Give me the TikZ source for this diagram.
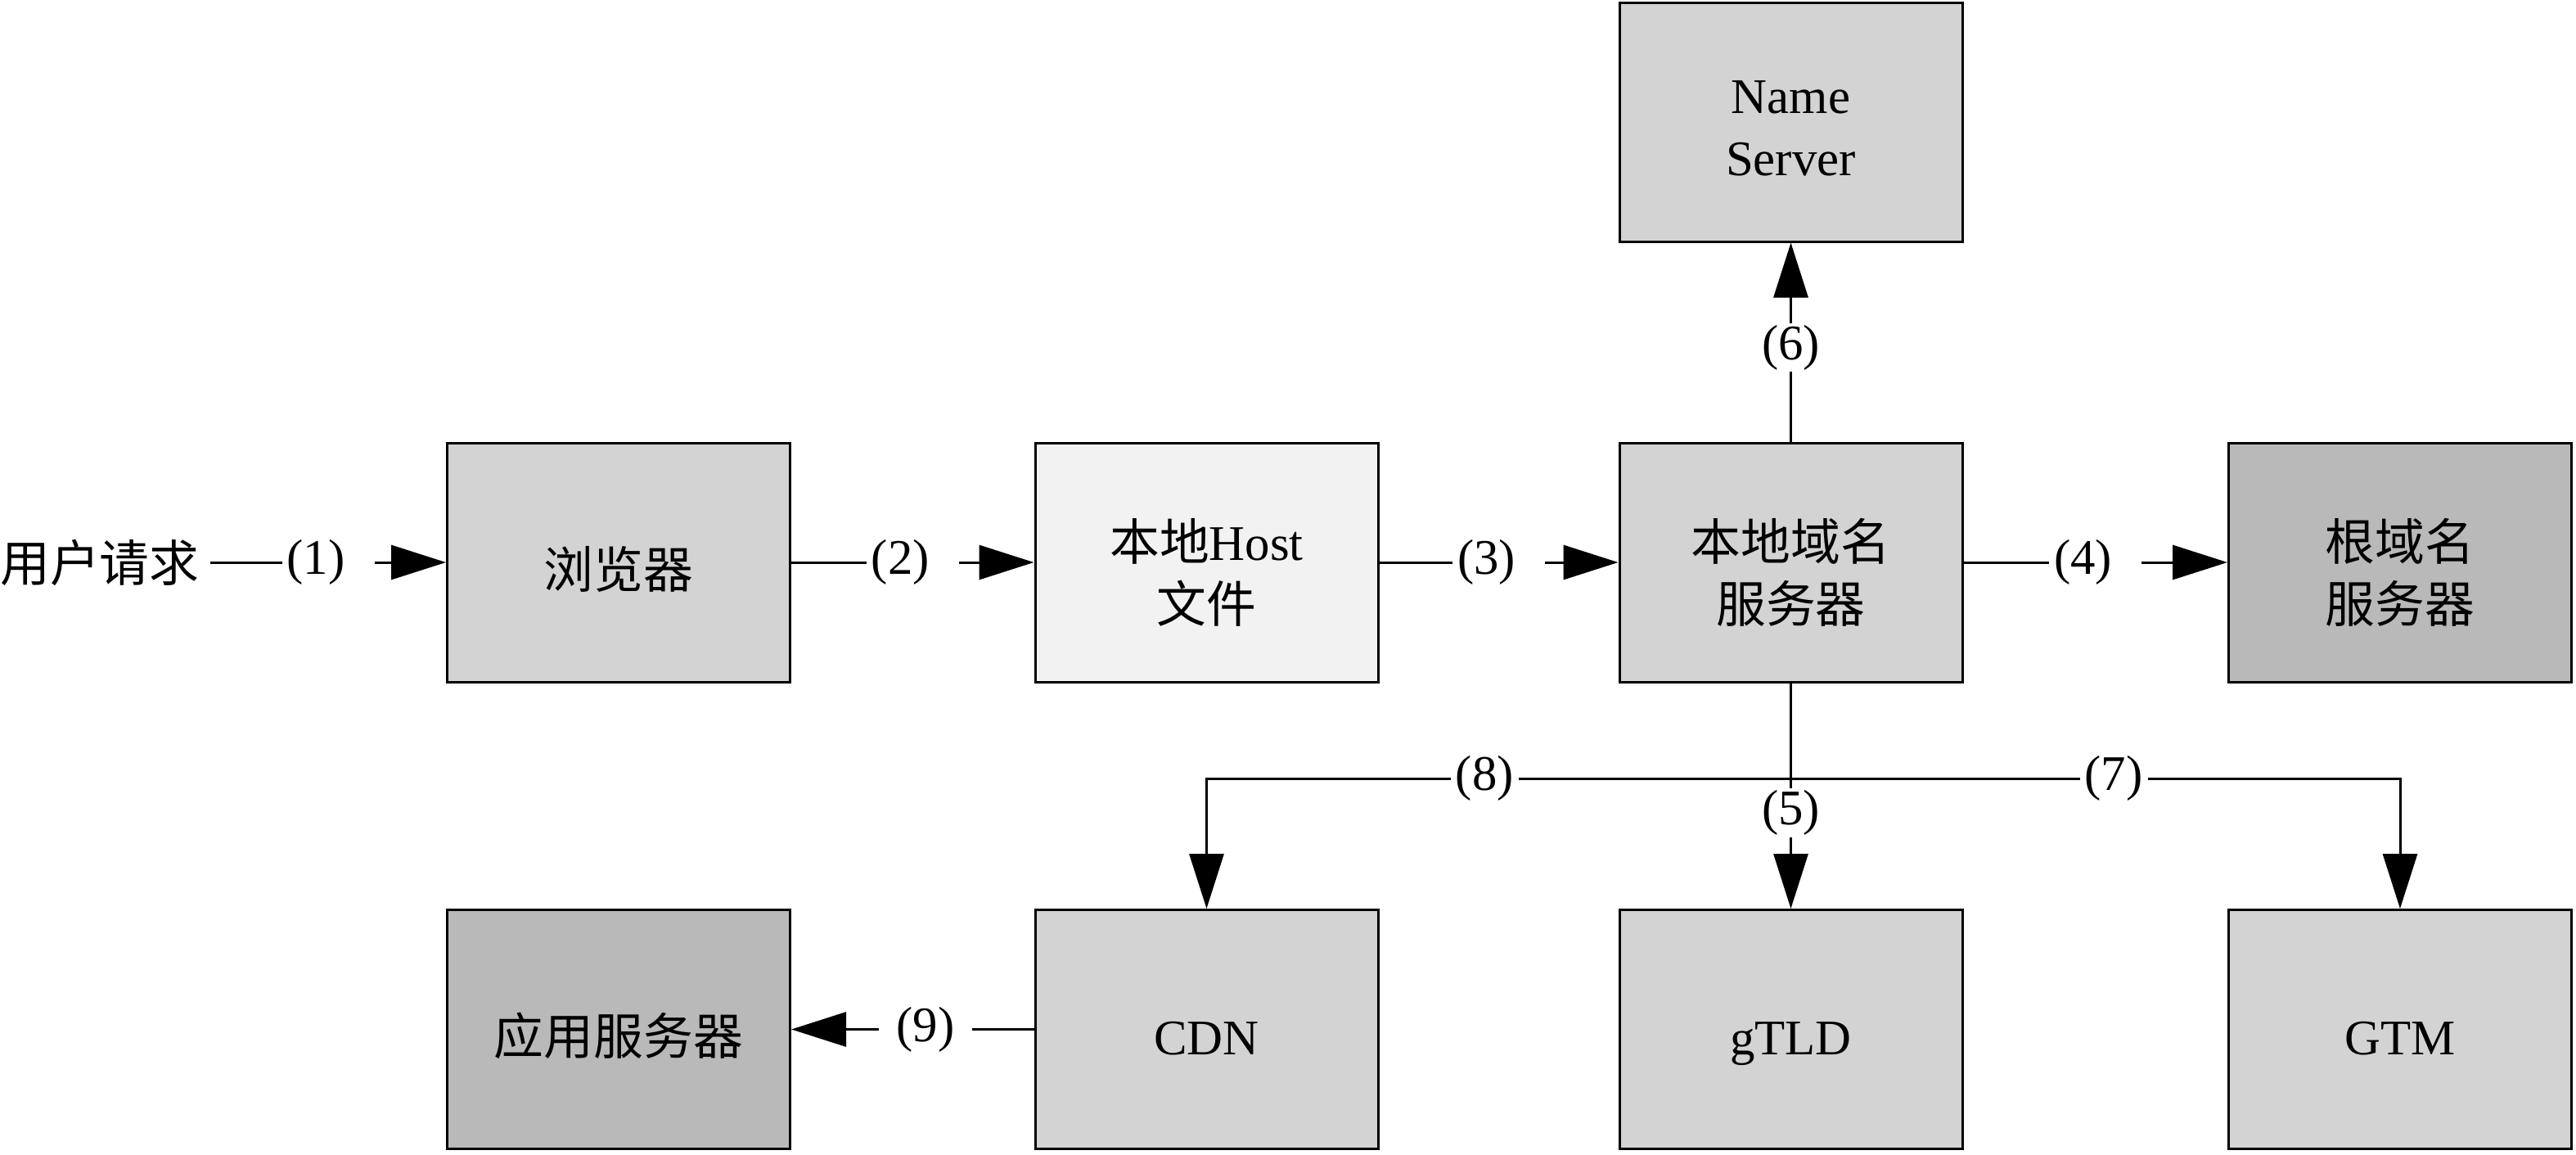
\documentclass[tikz,border=0pt]{standalone}
\usepackage{fontspec}
\setmainfont{Liberation Serif}
\newfontfamily\cjk{Noto Sans CJK SC}
\usetikzlibrary{arrows.meta}
\definecolor{boxgray}{RGB}{211,211,211}
\definecolor{hostgray}{RGB}{242,242,242}
\definecolor{srvgray}{RGB}{185,185,185}

\begin{document}
\begin{tikzpicture}[font=\fontsize{17.3pt}{21.5pt}\selectfont, line width=0.03cm,
    box/.style={draw, fill=boxgray, minimum width=4.19cm, minimum height=2.92cm, align=center},
    oneline/.style={text height=0.62cm, text depth=0cm},
    twoline/.style={text height=1.46cm, text depth=0cm},
    arr/.style={-{Triangle[length=0.67cm,width=0.42cm]}},
    lbl/.style={fill=white, inner xsep=0.06cm, inner ysep=0.02cm}]
    \useasboundingbox (0,0) rectangle (31.48,-14.10);
    \node[box, twoline, text height=1.3cm] (ns) at (21.885,-1.49) {Name\\Server};
    \node[box, oneline] (browser) at (7.56,-6.87) {\cjk 浏览器};
    \node[box, twoline, fill=hostgray] (host) at (14.745,-6.87) {{\cjk 本地}Host\\{\cjk 文件}};
    \node[box, twoline] (local) at (21.885,-6.87) {{\cjk 本地域名}\\{\cjk 服务器}};
    \node[box, twoline, fill=srvgray] (root) at (29.33,-6.87) {{\cjk 根域名}\\{\cjk 服务器}};
    \node[box, oneline, fill=srvgray] (app) at (7.56,-12.575) {\cjk 应用服务器};
    \node[box, oneline] (cdn) at (14.745,-12.575) {CDN};
    \node[box, oneline] (gtld) at (21.885,-12.575) {gTLD};
    \node[box, oneline] (gtm) at (29.33,-12.575) {GTM};
    \node[inner xsep=0.12cm] (req) at (1.22,-6.87) {\cjk 用户请求};
    \coordinate (bus) at (21.885,-9.51);

    \draw[arr] (req) -- (browser) node[lbl, pos=0.5] {(1)\kern0.3cm};
    \draw[arr] (browser) -- (host) node[lbl, pos=0.5] {(2)\kern0.3cm};
    \draw[arr] (host) -- (local) node[lbl, pos=0.5] {(3)\kern0.3cm};
    \draw[arr] (local) -- (root) node[lbl, pos=0.5] {(4)\kern0.3cm};
    \draw[arr] (local) -- (ns) node[lbl, pos=0.473] {(6)};
    \draw (local) -- (bus);
    \draw[arr] (bus) -| (cdn) node[lbl, pos=0.262] {(8)};
    \draw[arr] (bus) -| (gtm) node[lbl, pos=0.265] {(7)};
    \draw[arr] (bus) -- (gtld) node[lbl, pos=0.264] {(5)};
    \draw[arr] (cdn) -- (app) node[lbl, pos=0.447, inner xsep=0.22cm] {(9)};
\end{tikzpicture}
\end{document}
